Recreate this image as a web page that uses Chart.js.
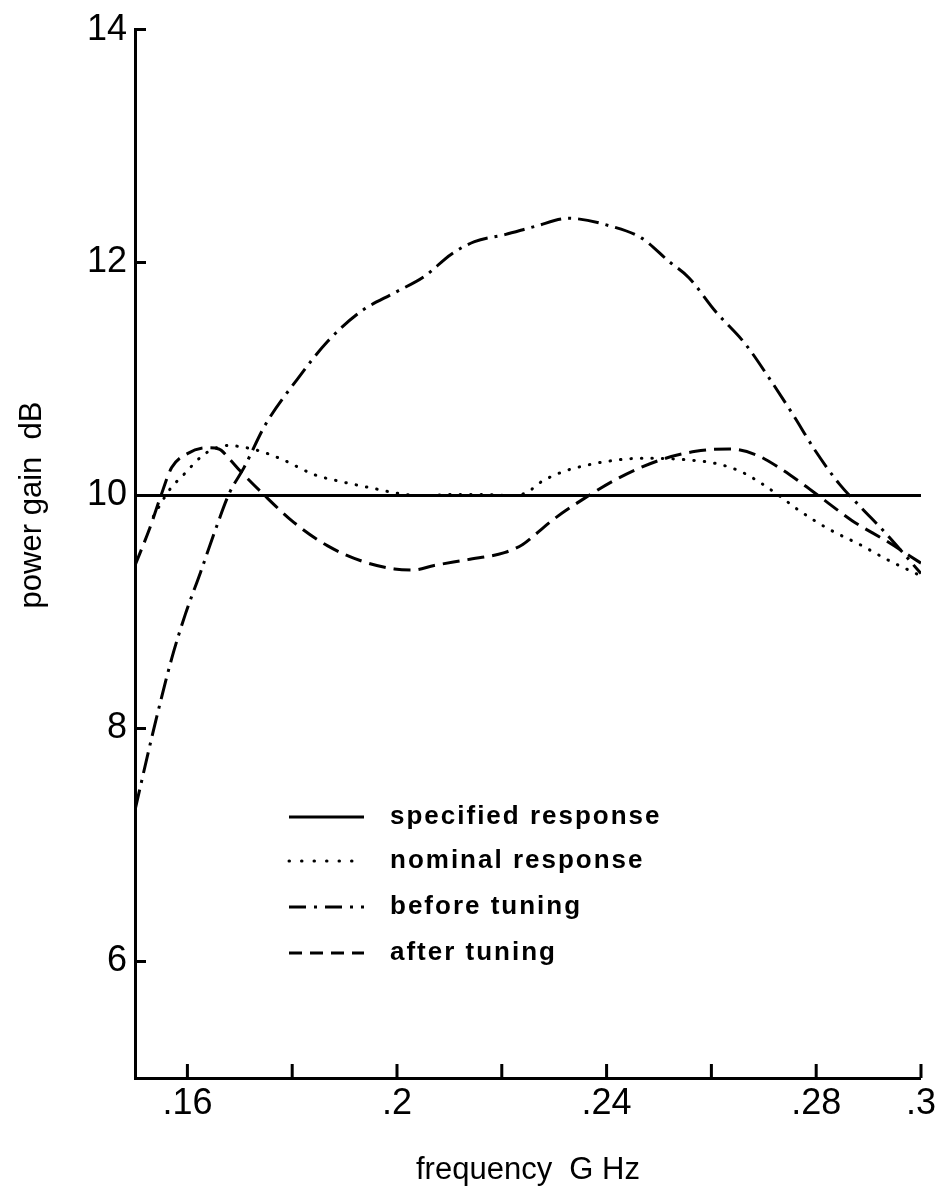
<!DOCTYPE html>
<html>
<head>
<meta charset="utf-8">
<script src="https://cdn.jsdelivr.net/npm/chart.js@4.4.1/dist/chart.umd.min.js"></script>
<style>
  html, body { margin: 0; padding: 0; background: #fff; }
  #wrap { width: 940px; height: 1189px; }
</style>
</head>
<body>
<div id="wrap"><canvas id="gainChart" width="940" height="1189"></canvas></div>
<script>
// frequency (GHz) and power gain (dB)
const specFreq = [0.15, 0.30];
const specGain = [10, 10];

const nominalFreq = [0.1535, 0.1566, 0.1593, 0.1628, 0.1650, 0.1676, 0.1701, 0.1740, 0.1781, 0.1842,
    0.1893, 0.1957, 0.2001, 0.2046, 0.2110, 0.2167, 0.2212, 0.2250, 0.2269, 0.2314,
    0.2352, 0.2411, 0.2467, 0.2544, 0.2614, 0.2659, 0.2697, 0.2729, 0.2768, 0.2825,
    0.2883, 0.2940, 0.3000];
const nominalGain = [9.82, 10.05, 10.18, 10.34, 10.40, 10.43, 10.42, 10.38, 10.31, 10.18,
    10.12, 10.06, 10.02, 10.00, 10.01, 10.01, 10.00, 10.03, 10.10, 10.20,
    10.25, 10.30, 10.32, 10.31, 10.27, 10.20, 10.10, 10.00, 9.87, 9.71,
    9.58, 9.44, 9.31];

const beforeFreq = [0.1500, 0.1535, 0.1570, 0.1596, 0.1625, 0.1653, 0.1680, 0.1708, 0.1749, 0.1810,
    0.1867, 0.1931, 0.1995, 0.2052, 0.2103, 0.2148, 0.2206, 0.2263, 0.2327, 0.2410,
    0.2467, 0.2519, 0.2557, 0.2608, 0.2665, 0.2710, 0.2755, 0.2799, 0.2844, 0.2883,
    0.2934, 0.3000];
const beforeGain = [7.30, 7.98, 8.60, 8.98, 9.34, 9.70, 10.02, 10.24, 10.61, 11.00,
    11.32, 11.58, 11.74, 11.88, 12.07, 12.18, 12.24, 12.31, 12.38, 12.31,
    12.21, 12.01, 11.87, 11.58, 11.30, 11.01, 10.70, 10.38, 10.10, 9.91,
    9.67, 9.33];

const afterFreq = [0.1500, 0.1529, 0.1548, 0.1570, 0.1600, 0.1637, 0.1660, 0.1679, 0.1701, 0.1743,
    0.1803, 0.1867, 0.1931, 0.1995, 0.2030, 0.2071, 0.2135, 0.2205, 0.2240, 0.2265,
    0.2300, 0.2359, 0.2423, 0.2499, 0.2570, 0.2634, 0.2685, 0.2729, 0.2774, 0.2813,
    0.2870, 0.2934, 0.3000];
const afterGain = [9.40, 9.73, 9.98, 10.24, 10.36, 10.41, 10.40, 10.32, 10.21, 10.02,
    9.77, 9.57, 9.44, 9.37, 9.36, 9.40, 9.45, 9.51, 9.58, 9.67,
    9.80, 9.98, 10.15, 10.30, 10.38, 10.40, 10.35, 10.24, 10.10, 9.97,
    9.78, 9.61, 9.42];

const xTickValues = [0.16, 0.18, 0.2, 0.22, 0.24, 0.26, 0.28, 0.3];
const xTickLabels = [".16", "", ".2", "", ".24", "", ".28", ".3"];
const yTickValues = [6, 8, 10, 12, 14];
const yTickLabels = ["6", "8", "10", "12", "14"];

const seriesLabels = ["specified response", "nominal response", "before tuning", "after tuning"];

const FONT = "'Liberation Sans', Arial, sans-serif";

function pairs(xs, ys) {
    return xs.map((x, i) => ({ x: x, y: ys[i] }));
}

function lineSet(label, xs, ys, dash, cap) {
    return {
        label: label,
        data: pairs(xs, ys),
        borderColor: "#000",
        borderWidth: 3,
        borderDash: dash,
        borderCapStyle: cap || "butt",
        pointRadius: 0,
        fill: false,
        cubicInterpolationMode: "monotone"
    };
}

// tick marks point into the plot, like the original drawing
const innerTicks = {
    id: "innerTicks",
    afterDraw(chart) {
        const ctx = chart.ctx;
        const xs = chart.scales.x;
        const ys = chart.scales.y;
        const area = chart.chartArea;
        ctx.save();
        ctx.strokeStyle = "#000";
        ctx.lineWidth = 3;
        ctx.beginPath();
        xTickValues.forEach(v => {
            const px = xs.getPixelForValue(v);
            ctx.moveTo(px, area.bottom);
            ctx.lineTo(px, area.bottom - 14);
        });
        yTickValues.forEach(v => {
            const py = ys.getPixelForValue(v);
            ctx.moveTo(area.left, py);
            ctx.lineTo(area.left + 11, py);
        });
        ctx.stroke();
        ctx.restore();
    }
};

// y title sits a bit above the middle of the axis, and the key is inside the plot
const annotations = {
    id: "annotations",
    afterDraw(chart) {
        const ctx = chart.ctx;
        ctx.save();
        ctx.fillStyle = "#000";
        ctx.font = "31px " + FONT;
        ctx.translate(32, 505);
        ctx.rotate(-Math.PI / 2);
        ctx.textAlign = "center";
        ctx.textBaseline = "middle";
        ctx.fillText("power gain  dB", 0, 0);
        ctx.restore();

        const rows = [817, 861, 907, 953];
        ctx.save();
        ctx.font = "bold 26px " + FONT;
        ctx.letterSpacing = "2px";
        ctx.textBaseline = "middle";
        chart.data.datasets.forEach((ds, i) => {
            const y = rows[i];
            ctx.strokeStyle = "#000";
            ctx.lineWidth = 3;
            ctx.lineCap = ds.borderCapStyle;
            ctx.setLineDash(i === 1 ? [0.5, 12] : i === 2 ? [17, 8, 3, 8] : i === 3 ? [13, 8] : []);
            ctx.beginPath();
            ctx.moveTo(289, y);
            ctx.lineTo(364, y);
            ctx.stroke();
            ctx.setLineDash([]);
            ctx.fillStyle = "#000";
            ctx.fillText(ds.label, 390, y);
        });
        ctx.restore();
    }
};

const ctx = document.getElementById("gainChart").getContext("2d");
new Chart(ctx, {
    type: "line",
    data: {
        datasets: [
            lineSet(seriesLabels[0], specFreq, specGain, []),
            lineSet(seriesLabels[1], nominalFreq, nominalGain, [0.5, 10], "round"),
            lineSet(seriesLabels[2], beforeFreq, beforeGain, [21, 7, 3, 7]),
            lineSet(seriesLabels[3], afterFreq, afterGain, [17, 8])
        ]
    },
    options: {
        responsive: false,
        animation: false,
        devicePixelRatio: 1,
        layout: { padding: { top: 27, right: 17, left: 0, bottom: 0 } },
        plugins: {
            legend: { display: false },
            tooltip: { enabled: false }
        },
        scales: {
            x: {
                type: "linear",
                min: 0.15,
                max: 0.3,
                afterBuildTicks: s => { s.ticks = xTickValues.map(v => ({ value: v })); },
                afterFit: s => { s.height = 111; },
                grid: { display: false, drawTicks: false },
                border: { display: true, color: "#000", width: 3 },
                ticks: {
                    autoSkip: false,
                    maxRotation: 0,
                    padding: 4,
                    color: "#000",
                    font: { family: FONT, size: 36 },
                    callback: (v, i) => xTickLabels[i]
                },
                title: {
                    display: true,
                    text: "frequency  G Hz",
                    color: "#000",
                    font: { family: FONT, size: 31 },
                    padding: { top: 12, bottom: 0 }
                }
            },
            y: {
                type: "linear",
                min: 5,
                max: 14,
                afterBuildTicks: s => { s.ticks = yTickValues.map(v => ({ value: v })); },
                afterFit: s => { s.width = 135; },
                grid: { display: false, drawTicks: false },
                border: { display: true, color: "#000", width: 3 },
                ticks: {
                    padding: 8,
                    color: "#000",
                    font: { family: FONT, size: 36 },
                    callback: (v, i) => yTickLabels[i]
                }
            }
        }
    },
    plugins: [innerTicks, annotations]
});
</script>
</body>
</html>
